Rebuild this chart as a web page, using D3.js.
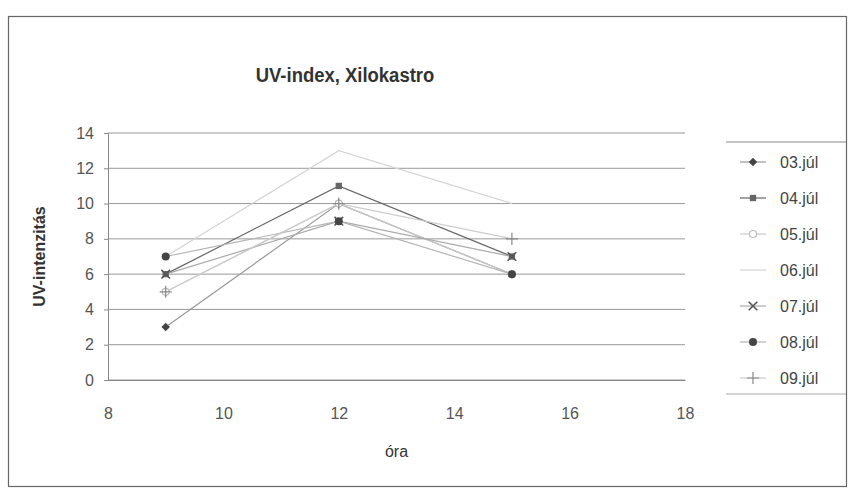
<!DOCTYPE html>
<html>
<head>
<meta charset="utf-8">
<script src="https://cdn.jsdelivr.net/npm/d3@7"></script>
<style>
  body { margin: 0; background: #fff; }
  text { font-family: "Liberation Sans", Arial, sans-serif; }
</style>
</head>
<body>
<svg width="851" height="493"></svg>
<script>
var hours = [9, 12, 15];
var days = ["03.júl", "04.júl", "05.júl", "06.júl", "07.júl", "08.júl", "09.júl"];
var jul03 = [3, 10, 6];
var jul04 = [6, 11, 7];
var jul05 = [5, 10, 6];
var jul06 = [7, 13, 10];
var jul07 = [6, 9, 7];
var jul08 = [7, 9, 6];
var jul09 = [5, 10, 8];
var xTicks = [8, 10, 12, 14, 16, 18];
var yTicks = [0, 2, 4, 6, 8, 10, 12, 14];

var seriesValues = [jul03, jul04, jul05, jul06, jul07, jul08, jul09];
// grayscale look of the scanned print
var lineColors = ["#999", "#666", "#c8c8c8", "#d4d4d4", "#aaa", "#b4b4b4", "#ccc"];
var markColors = ["#444", "#666", "#bbb", "#ccc", "#555", "#444", "#888"];
var shapes = ["diamond", "square", "ocircle", "none", "cross", "circle", "plus"];

var margin = {top: 133, left: 108},
    width = 685 - 108,
    height = 380 - 133;

var svg = d3.select("svg");

// outer frame
svg.append("rect")
    .attr("x", 8.5).attr("y", 16.5)
    .attr("width", 838).attr("height", 470)
    .attr("fill", "none").attr("stroke", "#666").attr("stroke-width", 1.2);

svg.append("text")
    .attr("transform", "translate(345,82) scale(0.88,1)")
    .attr("text-anchor", "middle")
    .attr("font-size", 21).attr("font-weight", "bold").attr("fill", "#333")
    .text("UV-index, Xilokastro");

var g = svg.append("g").attr("transform", "translate(" + margin.left + "," + margin.top + ")");

var x = d3.scaleLinear().domain([8, 18]).range([0, width]);
var y = d3.scaleLinear().domain([0, 14]).range([height, 0]);

// gridlines
g.selectAll(".grid").data(yTicks).enter().append("line")
    .attr("class", "grid")
    .attr("x1", 0).attr("x2", width)
    .attr("y1", function(d) { return y(d); })
    .attr("y2", function(d) { return y(d); })
    .attr("stroke", "#999").attr("stroke-width", 1);

var yAxis = d3.axisLeft(y).tickValues(yTicks).tickSize(4).tickPadding(10);
var xAxis = d3.axisBottom(x).tickValues(xTicks).tickSize(0).tickPadding(28);

var gY = g.append("g").call(yAxis);
var gX = g.append("g").attr("transform", "translate(0," + height + ")").call(xAxis);
[gX, gY].forEach(function(a) {
    a.select(".domain").attr("stroke", "#888");
    a.selectAll(".tick line").attr("stroke", "#888");
    a.selectAll("text").attr("font-size", 16).attr("fill", "#555")
        .style("font-family", "'Liberation Sans', Arial, sans-serif");
});

g.append("text")
    .attr("transform", "translate(-63," + (height / 2) + ") rotate(-90)")
    .attr("text-anchor", "middle")
    .attr("font-size", 16).attr("font-weight", "bold").attr("fill", "#333")
    .text("UV-intenzitás");

g.append("text")
    .attr("x", x(13)).attr("y", height + 77)
    .attr("text-anchor", "middle")
    .attr("font-size", 16).attr("fill", "#333")
    .text("óra");

var line = d3.line()
    .x(function(d) { return x(d.h); })
    .y(function(d) { return y(d.v); });

function drawMark(sel, shape, color) {
    if (shape === "diamond") {
        sel.append("path").attr("d", d3.symbol(d3.symbolSquare, 36)())
            .attr("transform", "rotate(45)").attr("fill", color);
    } else if (shape === "square") {
        sel.append("path").attr("d", d3.symbol(d3.symbolSquare, 40)()).attr("fill", color);
    } else if (shape === "ocircle") {
        sel.append("circle").attr("r", 3.5).attr("fill", "#fff").attr("stroke", color).attr("stroke-width", 1.2);
    } else if (shape === "circle") {
        sel.append("circle").attr("r", 4).attr("fill", color);
    } else if (shape === "cross") {
        sel.append("path").attr("d", d3.symbol(d3.symbolTimes, 50)()).attr("fill", "none")
            .attr("stroke", color).attr("stroke-width", 1.6);
    } else if (shape === "plus") {
        sel.append("path").attr("d", d3.symbol(d3.symbolPlus, 50)()).attr("fill", "none")
            .attr("stroke", color).attr("stroke-width", 1.2);
    }
}

seriesValues.forEach(function(vals, i) {
    var pts = vals.map(function(v, j) { return {h: hours[j], v: v}; });
    g.append("path")
        .datum(pts)
        .attr("fill", "none")
        .attr("stroke", lineColors[i])
        .attr("stroke-width", 1.2)
        .attr("d", line);
});
seriesValues.forEach(function(vals, i) {
    vals.forEach(function(v, j) {
        var m = g.append("g").attr("transform", "translate(" + x(hours[j]) + "," + y(v) + ")");
        drawMark(m, shapes[i], markColors[i]);
    });
});

// legend
var lg = svg.append("g");
lg.append("line").attr("x1", 726).attr("x2", 846).attr("y1", 142).attr("y2", 142)
    .attr("stroke", "#888");
lg.append("line").attr("x1", 726).attr("x2", 846).attr("y1", 394).attr("y2", 394)
    .attr("stroke", "#aaa");
var rowY = d3.scalePoint().domain(days).range([162, 378]);
days.forEach(function(d, i) {
    var yy = rowY(d);
    lg.append("line").attr("x1", 740).attr("x2", 766).attr("y1", yy).attr("y2", yy)
        .attr("stroke", lineColors[i]).attr("stroke-width", 1.2);
    var m = lg.append("g").attr("transform", "translate(753," + yy + ")");
    drawMark(m, shapes[i], markColors[i]);
    lg.append("text").attr("x", 780).attr("y", yy + 6)
        .attr("font-size", 16).attr("fill", "#444")
        .text(d);
});
</script>
</body>
</html>
